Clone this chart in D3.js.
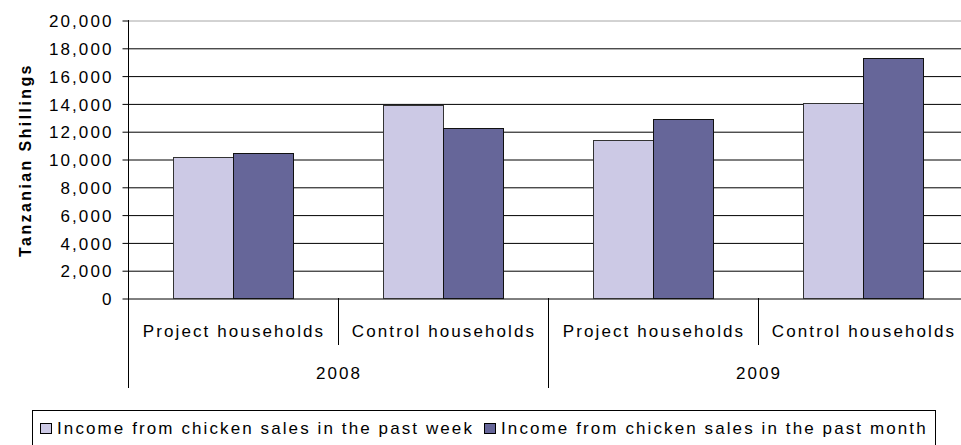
<!DOCTYPE html>
<meta charset="utf-8">
<script src="https://d3js.org/d3.v7.min.js"></script>
<style type="text/css">
body { margin: 0; background: #fff; }
svg { display: block; }
text {
  font-family: "Liberation Sans", Arial, sans-serif;
  font-size: 17px;
  letter-spacing: 2.1px;
  fill: #000;
}
.axis path { display: none; }
.axis line { stroke: #000; }
.grid line { stroke: #000; }
.grid text { display: none; }
.grid path { display: none; }
.yTitle { font-weight: bold; font-size: 16px; letter-spacing: 2.4px; }
</style>
<body>
</body>
<script>

var years = ["2008", "2009"];
var groups = ["Project households", "Control households"];
var seriesNames = ["Income from chicken sales in the past week", "Income from chicken sales in the past month"];
var weekValues = [10150, 13850, 11400, 14000];
var monthValues = [10400, 12250, 12900, 17300];
var yTicks = [0, 2000, 4000, 6000, 8000, 10000, 12000, 14000, 16000, 18000, 20000];

var colors = ["#ccc9e5", "#666699"];

// build rows: one per year / group
var rows = [];
years.forEach(function(yr, i) {
  groups.forEach(function(g, j) {
    var k = i * groups.length + j;
    rows.push({key: yr + "|" + g, year: yr, group: g, values: [weekValues[k], monthValues[k]]});
  });
});

var width = 961, height = 445;
var plotLeft = 128, plotTop = 20, plotBottom = 298;
var catW = 210;

var svg = d3.select("body").append("svg")
    .attr("width", width)
    .attr("height", height);

var x = d3.scaleBand()
  .domain(rows.map(function(d) { return d.key; }))
  .range([plotLeft, plotLeft + catW * rows.length]);

var xInner = d3.scaleBand()
  .domain([0, 1])
  .range([45, 165]);

var y = d3.scaleLinear()
  .domain([0, 20000])
  .range([plotBottom, plotTop]);

// gridlines
svg.append("g")
  .attr("class", "grid")
  .attr("transform", "translate(" + plotLeft + ",0.5)")
  .call(d3.axisLeft(y).tickValues(yTicks).tickSize(-(width - plotLeft)));

svg.select(".grid").selectAll(".tick line")
  .style("stroke", function(d) { return d == 20000 ? "#a6a6a6" : "#000"; });

// bars
var cat = svg.selectAll(".cat")
  .data(rows).enter().append("g")
  .attr("class", "cat")
  .attr("transform", function(d) { return "translate(" + x(d.key) + ",0)"; });

cat.selectAll("rect")
  .data(function(d) { return d.values; })
  .enter().append("rect")
  .attr("x", function(d, i) { return xInner(i) + 0.5; })
  .attr("y", function(d) { return Math.round(y(d)) + 0.5; })
  .attr("width", xInner.bandwidth())
  .attr("height", function(d) { return Math.round(plotBottom - y(d)); })
  .style("fill", function(d, i) { return colors[i]; })
  .style("stroke", function(d, i) { return i == 0 ? "#333" : "#111"; })
  .style("stroke-width", 1);

// y axis
var yAxisG = svg.append("g")
  .attr("class", "axis")
  .attr("transform", "translate(" + (plotLeft + 0.5) + ",0.5)")
  .call(d3.axisLeft(y).tickValues(yTicks).tickSize(6).tickPadding(9).tickFormat(d3.format(",")));

yAxisG.selectAll("text")
  .attr("dy", "0.36em");

svg.append("line")
  .attr("x1", plotLeft + 0.5).attr("x2", plotLeft + 0.5)
  .attr("y1", plotTop).attr("y2", 388)
  .style("stroke", "#000");

// category separators
rows.forEach(function(d, i) {
  if (i == 0) return;
  var xs = Math.round(x(d.key)) + 0.5;
  svg.append("line")
    .attr("x1", xs).attr("x2", xs)
    .attr("y1", plotBottom).attr("y2", i % groups.length == 0 ? 388 : 345)
    .style("stroke", "#000");
});

// category labels
svg.selectAll(".catLabel")
  .data(rows).enter().append("text")
  .attr("class", "catLabel")
  .attr("x", function(d) { return x(d.key) + catW / 2 + 1; })
  .attr("y", 337)
  .attr("text-anchor", "middle")
  .text(function(d) { return d.group; });

// year labels
svg.selectAll(".yearLabel")
  .data(years).enter().append("text")
  .attr("class", "yearLabel")
  .attr("x", function(d, i) { return plotLeft + catW * groups.length * (i + 0.5) + 1; })
  .attr("y", 379)
  .attr("text-anchor", "middle")
  .text(function(d) { return d; });

// y title
svg.append("text")
  .attr("class", "yTitle")
  .attr("transform", "translate(31,160) rotate(-90)")
  .attr("text-anchor", "middle")
  .text("Tanzanian Shillings");

// legend
var legend = svg.append("g").attr("class", "legend");
legend.append("rect")
  .attr("x", 32.5).attr("y", 410.5)
  .attr("width", 903).attr("height", 45)
  .style("fill", "none")
  .style("stroke", "#000");

var legendX = [40, 484];
var item = legend.selectAll(".item")
  .data(seriesNames).enter().append("g")
  .attr("class", "item")
  .attr("transform", function(d, i) { return "translate(" + legendX[i] + ",0)"; });

item.append("rect")
  .attr("x", 0.5).attr("y", 423.5)
  .attr("width", 11).attr("height", 10)
  .style("fill", function(d, i) { return colors[i]; })
  .style("stroke", "#000");

item.append("text")
  .attr("x", 17)
  .attr("y", 434)
  .text(function(d) { return d; });

</script>
